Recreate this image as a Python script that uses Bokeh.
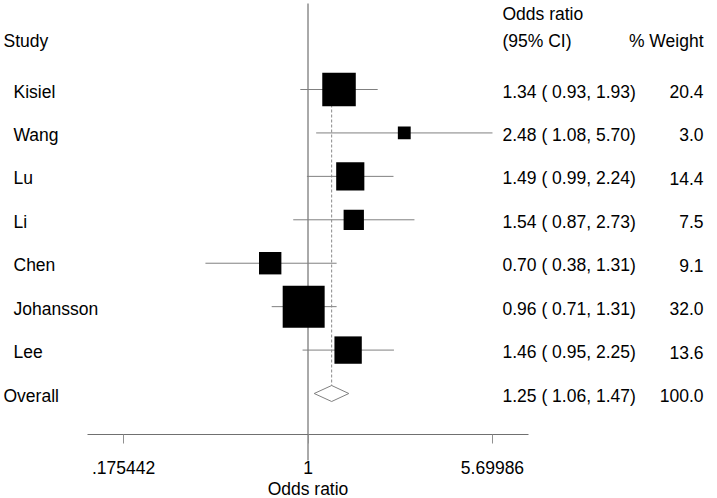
import math
from bokeh.plotting import figure
from bokeh.models import Range1d, LogAxis, FixedTicker, CustomJSTickFormatter, Grid
from bokeh.core.properties import value
from bokeh.embed import file_html
from bokeh.resources import INLINE

# ---------------- data ----------------
studies = ["Kisiel", "Wang", "Lu", "Li", "Chen", "Johansson", "Lee"]
odds_ratio = [1.34, 2.48, 1.49, 1.54, 0.70, 0.96, 1.46]
ci_low = [0.93, 1.08, 0.99, 0.87, 0.38, 0.71, 0.95]
ci_high = [1.93, 5.70, 2.24, 2.73, 1.31, 1.31, 2.25]
weights = [20.4, 3.0, 14.4, 7.5, 9.1, 32.0, 13.6]

overall_label = "Overall"
overall_or = 1.25
overall_low = 1.06
overall_high = 1.47
overall_weight = 100.0

tick_values = [0.175442, 1, 5.69986]
tick_labels = [".175442", "1", "5.69986"]
axis_bounds = (0.125, 8)
null_value = 1

# ---------------- layout ----------------
W, H = 717, 498
K = 106.0          # px per ln unit
X1_PX = 307.5      # canvas x of OR = 1
ROW_PX = 43.43     # px per row
ROW1_PX = 89.0     # canvas y of first study row
top_val = 1 - ROW1_PX / ROW_PX
bot_val = top_val + H / ROW_PX


def px_to_x(px):
    return math.exp((px - X1_PX) / K)


def py_to_row(py):
    return top_val + py / ROW_PX


rows = list(range(1, len(studies) + 1))
overall_row = len(studies) + 1
axis_row = py_to_row(434)

p = figure(width=W, height=H, x_axis_type="log", x_axis_location=None,
           y_axis_location=None,
           x_range=Range1d(px_to_x(0), px_to_x(W)),
           y_range=Range1d(bot_val, top_val),
           output_backend="svg", toolbar_location=None,
           min_border=0, outline_line_color=None)
p.center = [r for r in p.center if not isinstance(r, Grid)]

FONT = value("Liberation Sans")
FS = "17.5px"

# reference line at OR = 1
p.segment(x0=[null_value], y0=[py_to_row(3)], x1=[null_value], y1=[py_to_row(460)],
          line_color="#555555", line_width=1)

# confidence intervals
p.segment(x0=ci_low, y0=rows, x1=ci_high, y1=rows, line_color="#808080", line_width=1)

# overall dashed line
p.segment(x0=[overall_or], y0=[rows[0]], x1=[overall_or], y1=[overall_row],
          line_color="#8a8a8a", line_width=1, line_dash="3 2")

# weighted boxes
sizes = [7.42 * math.sqrt(w) for w in weights]
p.scatter(x=odds_ratio, y=rows, size=sizes, marker="square",
          fill_color="black", line_color=None)

# overall diamond
h = 8 / ROW_PX
p.patch(x=[overall_low, overall_or, overall_high, overall_or],
        y=[overall_row, overall_row - h, overall_row, overall_row + h],
        fill_color="white", line_color="#808080", line_width=1)

# axis
axis = LogAxis(fixed_location=axis_row, bounds=axis_bounds,
               ticker=FixedTicker(ticks=tick_values, minor_ticks=[]),
               formatter=CustomJSTickFormatter(
                   args=dict(vals=tick_values, labels=tick_labels),
                   code="const i = vals.findIndex(v => Math.abs(v - tick) < 1e-9); return i >= 0 ? labels[i] : '';"),
               axis_label="Odds ratio")
axis.axis_line_color = "#707070"
axis.major_tick_line_color = "#909090"
axis.major_tick_in = 0
axis.major_tick_out = 9
axis.minor_tick_out = 0
axis.minor_tick_in = 0
axis.major_label_standoff = 17
axis.major_label_text_font = "Liberation Sans"
axis.major_label_text_font_size = FS
axis.major_label_text_color = "black"
axis.axis_label_text_font = "Liberation Sans"
axis.axis_label_text_font_size = FS
axis.axis_label_text_font_style = "normal"
axis.axis_label_text_color = "black"
axis.axis_label_standoff = 2
p.add_layout(axis, "below")

# texts
TOFF = 2
name_x = [px_to_x(13)] * len(studies)
p.text(x=name_x, y=rows, text=studies, text_font=FONT, text_font_size=FS,
       text_baseline="middle", text_align="left", y_offset=TOFF)
p.text(x=[px_to_x(3)], y=[overall_row], text=[overall_label], text_font=FONT,
       text_font_size=FS, text_baseline="middle", text_align="left", y_offset=TOFF)

ci_text = [f"{o:.2f} ({l:5.2f}, {u:.2f})" for o, l, u in zip(odds_ratio, ci_low, ci_high)]
ci_text.append(f"{overall_or:.2f} ({overall_low:5.2f}, {overall_high:.2f})")
w_text = [f"{w:.1f}" for w in weights] + [f"{overall_weight:.1f}"]
all_rows = rows + [overall_row]
p.text(x=[px_to_x(502)] * len(all_rows), y=all_rows, text=ci_text, text_font=FONT,
       text_font_size=FS, text_baseline="middle", text_align="left", y_offset=TOFF)
p.text(x=[px_to_x(703)] * len(all_rows), y=all_rows, text=w_text, text_font=FONT,
       text_font_size=FS, text_baseline="middle", text_align="right", y_offset=TOFF)

# headers
hdr_row = py_to_row(38)
p.text(x=[px_to_x(3)], y=[hdr_row], text=["Study"], text_font=FONT, text_font_size=FS,
       text_baseline="middle", text_align="left", y_offset=TOFF)
p.text(x=[px_to_x(502), px_to_x(502)], y=[py_to_row(11), hdr_row],
       text=["Odds ratio", "(95% CI)"], text_font=FONT, text_font_size=FS,
       text_baseline="middle", text_align="left", y_offset=TOFF)
p.text(x=[px_to_x(703)], y=[hdr_row], text=["% Weight"], text_font=FONT, text_font_size=FS,
       text_baseline="middle", text_align="right", y_offset=TOFF)

open("out.html", "w").write(file_html(p, INLINE))
